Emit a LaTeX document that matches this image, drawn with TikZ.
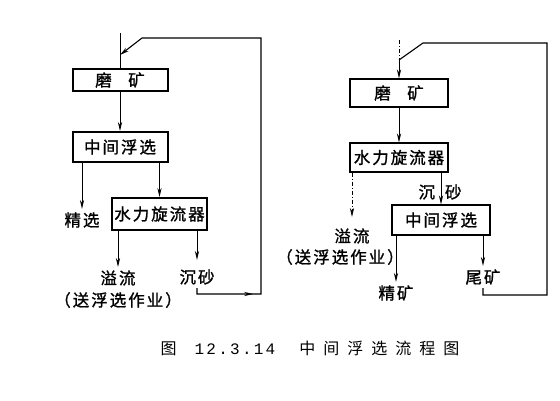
\documentclass[tikz,border=0pt]{standalone}
\usepackage{fontspec}
\setmainfont{Noto Sans CJK SC}
\newfontfamily\cnfont[LetterSpace=12, FakeBold=1.2]{Noto Sans CJK SC}
\newfontfamily\capfont[LetterSpace=50]{Noto Sans CJK SC}
\newfontfamily\numfont[LetterSpace=14]{Liberation Mono}
\usetikzlibrary{arrows.meta,decorations.markings}
\tikzset{
  cn/.style={font=\cnfont\fontsize{16.5}{19}\selectfont},
  unitL/.style={draw, line width=2pt, minimum width=95pt, inner sep=0pt, cn},
  unitR/.style={draw, line width=1.2pt, minimum width=98pt, inner sep=0pt, cn},
  flow/.style={line width=0.8pt, -{Stealth[length=9pt, width=4.2pt]}},
  loopline/.style={line width=1.1pt},
  dashdot/.style={dash pattern=on 4pt off 2pt on 1pt off 2pt},
  midtip/.style={postaction={decorate}, decoration={markings,
      mark=at position #1 with {\arrow{Stealth[length=9pt, width=4.2pt]}}}}
}
\begin{document}
\begin{tikzpicture}[x=1pt, y=-1pt]
    \useasboundingbox (0,0) rectangle (560,400);
    % left scheme
    \node[unitL, minimum height=22pt] (mkL) at (120,80) {磨\hspace{1em}矿};
    \node[unitL, minimum height=30pt] (zxL) at (120,147) {中间浮选};
    \node[unitL, minimum height=32pt] (hcL) at (159.5,214) {水力旋流器};
    \node[cn] (jxL) at (82,220) {精选};
    \node[cn] (ylL) at (118,278) {溢流};
    \node[cn] (sfL) at (118,300) {（送浮选作业）};
    \node[cn] (csL) at (197,277) {沉砂};
    \coordinate (inL) at (120,33);
    \coordinate (jnL) at (120,55);
    \coordinate (lpL) at (261,294);
    \coordinate (tpL) at (142,38);
    \draw[line width=0.8pt] (inL) -- (mkL.north);
    \draw[flow] (mkL.south) -- (zxL.north);
    \draw[flow] (zxL.south -| jxL) -- (jxL.north);
    \draw[flow] (hcL.north |- zxL.south) -- (hcL.north);
    \draw[flow] (hcL.south -| ylL) -- (ylL.north);
    \draw[flow, shorten >=6pt] (hcL.south -| csL) -- (csL.north);
    \draw[loopline, midtip=62pt, -{Stealth[length=9pt, width=4.2pt]}]
      (csL.south) |- (lpL) -- (lpL |- tpL) -- (tpL) -- (jnL);
    % right scheme
    \node[unitR, minimum height=28pt] (mkR) at (399,93) {磨\hspace{1em}矿};
    \node[unitR, minimum height=29pt] (hcR) at (399,157.5) {水力旋流器};
    \node[unitR, minimum height=30pt] (zxR) at (441,220) {中间浮选};
    \node[cn] (ylR) at (352,236) {溢流};
    \node[cn] (sfR) at (340,257) {（送浮选作业）};
    \node[cn] (csR) at (440,192) {沉\hspace{10pt}砂};
    \node[cn] (jkR) at (396,293) {精矿};
    \node[cn] (wkR) at (483,277) {尾矿};
    \coordinate (inR) at (399,40);
    \coordinate (jnR) at (399,60);
    \coordinate (lpR) at (547,295);
    \coordinate (tpR) at (423,43);
    \draw[line width=0.8pt, dashdot] (inR) -- (jnR);
    \draw[flow] (jnR) -- (mkR.north);
    \draw[flow] (mkR.south) -- (hcR.north);
    \draw[flow, dashdot, shorten >=8pt] (hcR.south -| ylR) -- (ylR.north);
    \draw[flow] (zxR.north |- hcR.south) -- (zxR.north);
    \draw[flow] (zxR.south -| jkR) -- (jkR.north);
    \draw[flow] (zxR.south -| wkR) -- (wkR.north);
    \draw[loopline] (wkR.south) |- (lpR) -- (lpR |- tpR) -- (tpR) -- (jnR);
    % caption
    \node[font=\capfont\fontsize{16}{19}\selectfont] (cap) at (310,348)
      {图\hspace{18pt}{\numfont 12.3.14}\hspace{24pt}中间浮选流程图};
\end{tikzpicture}
\end{document}
